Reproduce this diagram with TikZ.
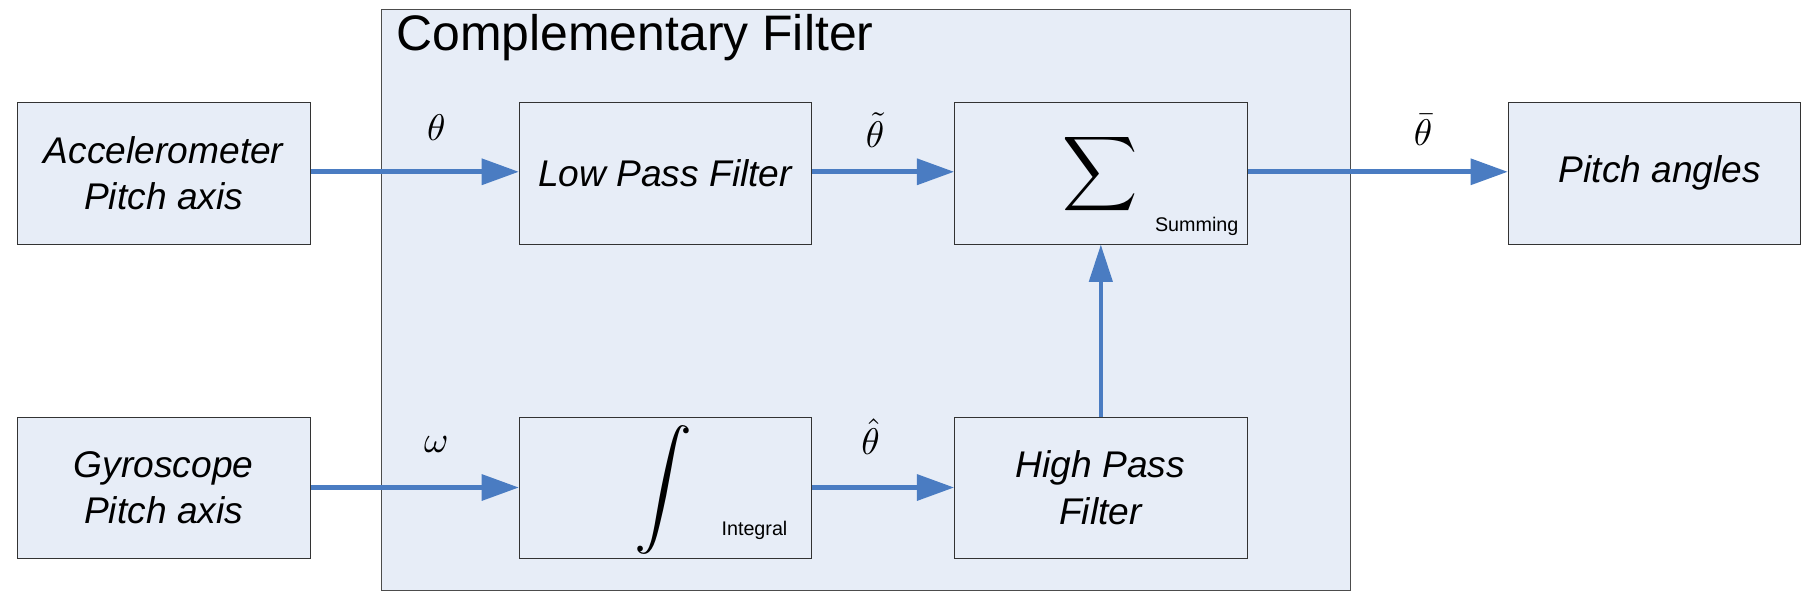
\documentclass[tikz,border=0pt]{standalone}
\usepackage{graphicx}
\usepackage{fontspec}
\setmainfont{Liberation Sans}
\usetikzlibrary{arrows.meta}
\definecolor{boxfill}{HTML}{E7EDF7}
\definecolor{arr}{HTML}{4A7CC2}
\begin{document}
\begin{tikzpicture}[x=1pt,y=-1pt,
  blk/.style={draw=black!80,fill=boxfill,line width=0.8pt,minimum width=252pt,minimum height=122pt,anchor=north west,inner sep=0pt},
  lbl/.style={font=\fontsize{32}{40}\selectfont\itshape,align=center},
  con/.style={draw=arr,line width=4pt,-{Triangle[length=32pt,width=22pt]}}]
\useasboundingbox (0,0) rectangle (1568,520);
\node[draw=black!70,fill=boxfill,line width=0.8pt,minimum width=835pt,minimum height=500pt,anchor=north west,inner sep=0pt] (outer) at (328,8) {};
\node[anchor=west,font=\fontsize{43}{48}\selectfont] (title) at (338,32) {Complementary Filter};
\node[blk] (acc) at (15,88) {};
\node[lbl] (acct) at (141,149) {Accelerometer\\Pitch axis};
\node[blk] (gyr) at (15,359) {};
\node[lbl] (gyrt) at (141,420) {Gyroscope\\Pitch axis};
\node[blk] (lpf) at (447,88) {};
\node[lbl] (lpft) at (573,149) {Low Pass Filter};
\node[blk] (int) at (447,359) {};
\node (intsym) at (572,422) {\scalebox{5}{$\displaystyle\int$}};
\node[font=\fontsize{17}{17}\selectfont] (intt) at (650,457) {Integral};
\node[blk] (sum) at (822,88) {};
\node (sumsym) at (948,150) {\scalebox{4.5}{$\displaystyle\sum$}};
\node[font=\fontsize{17}{17}\selectfont] (sumt) at (1031,195) {Summing};
\node[blk] (hpf) at (822,359) {};
\node[lbl] (hpft) at (948,420) {High Pass\\Filter};
\node[blk] (pit) at (1299,88) {};
\node[lbl] (pitt) at (1430,149) {Pitch angles};
\draw[con] (acc.east |- 0,148) -- (lpf.west |- 0,148);
\draw[con] (lpf.east |- 0,148) -- (sum.west |- 0,148);
\draw[con] (sum.east |- 0,148) -- (pit.west |- 0,148);
\draw[con] (gyr.east |- 0,420) -- (int.west |- 0,420);
\draw[con] (int.east |- 0,420) -- (hpf.west |- 0,420);
\draw[draw=arr,line width=3pt,-{Triangle[length=32pt,width=20pt]}] (hpf.north) -- (sum.south);
\node (l1) at (376,110) {\scalebox{3.2}{$\theta$}};
\node (l2) at (754,112) {\scalebox{3.2}{$\tilde{\theta}$}};
\node (l3) at (1226,112) {\scalebox{3.2}{$\bar{\theta}$}};
\node (l4) at (376,383) {\scalebox{3.2}{$\omega$}};
\node (l5) at (750,376) {\scalebox{3.2}{$\hat{\theta}$}};
\end{tikzpicture}
\end{document}
